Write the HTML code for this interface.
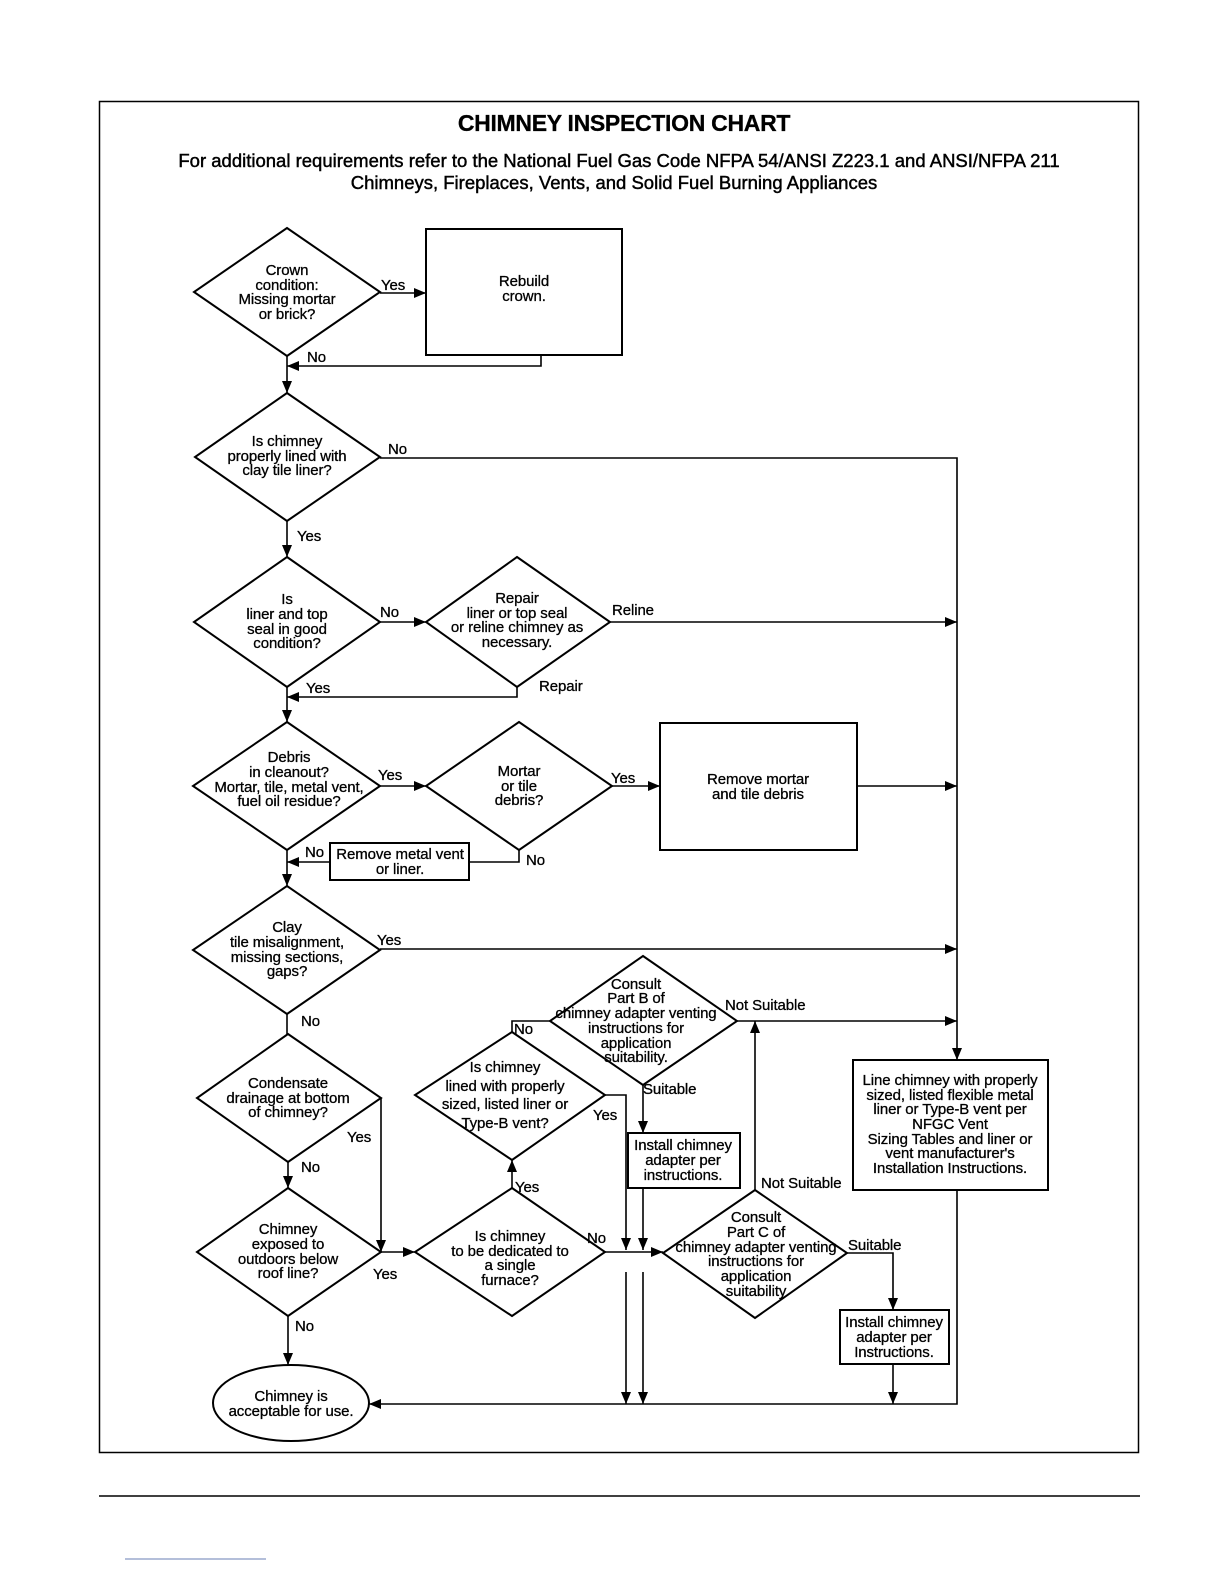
<!DOCTYPE html>
<html><head><meta charset="utf-8"><style>
html,body{margin:0;padding:0;background:#fff;overflow:hidden;width:1224px;height:1584px;}
svg{display:block;}
svg text{font-family:"Liberation Sans",Arial,sans-serif;font-size:15px;letter-spacing:-0.1px;fill:#000;stroke:#000;stroke-width:0.3px;}
</style></head><body>
<svg width="1224" height="1584" viewBox="0 0 1224 1584" xmlns="http://www.w3.org/2000/svg">
<defs>
<marker id="a" markerUnits="userSpaceOnUse" markerWidth="12" markerHeight="12" viewBox="0 0 12 12" refX="12" refY="6" orient="auto"><path d="M0,1 L12,6 L0,11 z" fill="#000"/></marker>
</defs>
<rect x="99.5" y="101.5" width="1039" height="1351" fill="none" stroke="#000" stroke-width="1.5"/>
<line x1="99" y1="1496" x2="1140" y2="1496" stroke="#000" stroke-width="1.5"/>
<line x1="125" y1="1559" x2="266" y2="1559" stroke="#6a7fb5" stroke-width="1"/>
<text x="624" y="131" text-anchor="middle" style="font-size:23px;font-weight:bold;letter-spacing:-0.3px">CHIMNEY INSPECTION CHART</text>
<text x="619" y="167" text-anchor="middle" style="font-size:18.5px;letter-spacing:0px;stroke-width:0.45px">For additional requirements refer to the National Fuel Gas Code NFPA 54/ANSI Z223.1 and ANSI/NFPA 211</text>
<text x="614" y="189" text-anchor="middle" style="font-size:18.5px;letter-spacing:0px;stroke-width:0.45px">Chimneys, Fireplaces, Vents, and Solid Fuel Burning Appliances</text>

<g fill="none" stroke="#000" stroke-width="2">
<polygon points="287,228 380,292 287,356 194,292"/>
<rect x="426" y="229" width="196" height="126"/>
<polygon points="287,393 380,457 287,521 195,457"/>
<polygon points="287,557 380,622 287,687 194,622"/>
<polygon points="517,557 610,622 517,687 426,622"/>
<polygon points="287,722 380,786 287,850 193,786"/>
<polygon points="519,722 612,786 519,850 426,786"/>
<rect x="660" y="723" width="197" height="127"/>
<rect x="330" y="843" width="139" height="37"/>
<polygon points="287,886 380,950 287,1014 193,950"/>
<polygon points="288,1034 381,1098 288,1162 197,1098"/>
<polygon points="288,1188 381,1252 288,1316 197,1252"/>
<ellipse cx="291" cy="1403" rx="78" ry="38"/>
<polygon points="512,1188 605,1252 512,1316 415,1252"/>
<polygon points="512,1032 605,1095 512,1160 415,1095"/>
<polygon points="643,956 737,1021 643,1085 550,1021"/>
<rect x="628" y="1133" width="112" height="55"/>
<polygon points="755,1190 847,1253 755,1318 663,1253"/>
<rect x="840" y="1310" width="109" height="54"/>
<rect x="853" y="1060" width="195" height="130"/>
</g>

<g fill="none" stroke="#000" stroke-width="1.6">
<line x1="380" y1="293" x2="426" y2="293" marker-end="url(#a)"/>
<polyline points="541,355 541,366 287,366" marker-end="url(#a)"/>
<line x1="287" y1="356" x2="287" y2="393" marker-end="url(#a)"/>
<polyline points="380,458 957,458 957,1060" marker-end="url(#a)"/>
<line x1="287" y1="521" x2="287" y2="557" marker-end="url(#a)"/>
<line x1="380" y1="622" x2="426" y2="622" marker-end="url(#a)"/>
<line x1="610" y1="622" x2="957" y2="622" marker-end="url(#a)"/>
<polyline points="517,687 517,697 287,697" marker-end="url(#a)"/>
<line x1="287" y1="687" x2="287" y2="722" marker-end="url(#a)"/>
<line x1="380" y1="786" x2="426" y2="786" marker-end="url(#a)"/>
<line x1="612" y1="786" x2="660" y2="786" marker-end="url(#a)"/>
<line x1="857" y1="786" x2="957" y2="786" marker-end="url(#a)"/>
<polyline points="519,850 519,862 469,862"/>
<line x1="330" y1="862" x2="287" y2="862" marker-end="url(#a)"/>
<line x1="287" y1="850" x2="287" y2="886" marker-end="url(#a)"/>
<line x1="380" y1="949" x2="957" y2="949" marker-end="url(#a)"/>
<line x1="287" y1="1014" x2="287" y2="1034"/>
<line x1="381" y1="1098" x2="381" y2="1252" marker-end="url(#a)"/>
<line x1="288" y1="1162" x2="288" y2="1188" marker-end="url(#a)"/>
<line x1="381" y1="1252" x2="415" y2="1252" marker-end="url(#a)"/>
<line x1="288" y1="1316" x2="288" y2="1365" marker-end="url(#a)"/>
<line x1="512" y1="1188" x2="512" y2="1160" marker-end="url(#a)"/>
<line x1="605" y1="1252" x2="663" y2="1252" marker-end="url(#a)"/>
<polyline points="605,1095 626,1095 626,1250" marker-end="url(#a)"/>
<polyline points="512,1032 512,1021 550,1021"/>
<line x1="737" y1="1021" x2="957" y2="1021" marker-end="url(#a)"/>
<line x1="643" y1="1085" x2="643" y2="1133" marker-end="url(#a)"/>
<line x1="643" y1="1188" x2="643" y2="1250" marker-end="url(#a)"/>
<line x1="626" y1="1272" x2="626" y2="1404" marker-end="url(#a)"/>
<line x1="643" y1="1272" x2="643" y2="1404" marker-end="url(#a)"/>
<line x1="755" y1="1190" x2="755" y2="1021" marker-end="url(#a)"/>
<polyline points="847,1253 893,1253 893,1310" marker-end="url(#a)"/>
<line x1="893" y1="1364" x2="893" y2="1404" marker-end="url(#a)"/>
<polyline points="957,1190 957,1404 369,1404" marker-end="url(#a)"/>
</g>

<g text-anchor="middle">
<text x="287" y="275">Crown</text><text x="287" y="290">condition:</text><text x="287" y="304">Missing mortar</text><text x="287" y="319">or brick?</text>
<text x="524" y="286">Rebuild</text><text x="524" y="301">crown.</text>
<text x="287" y="446">Is chimney</text><text x="287" y="461">properly lined with</text><text x="287" y="475">clay tile liner?</text>
<text x="287" y="604">Is</text><text x="287" y="619">liner and top</text><text x="287" y="634">seal in good</text><text x="287" y="648">condition?</text>
<text x="517" y="603">Repair</text><text x="517" y="618">liner or top seal</text><text x="517" y="632">or reline chimney as</text><text x="517" y="647">necessary.</text>
<text x="289" y="762">Debris</text><text x="289" y="777">in cleanout?</text><text x="289" y="792">Mortar, tile, metal vent,</text><text x="289" y="806">fuel oil residue?</text>
<text x="519" y="776">Mortar</text><text x="519" y="791">or tile</text><text x="519" y="805">debris?</text>
<text x="758" y="784">Remove mortar</text><text x="758" y="799">and tile debris</text>
<text x="400" y="859">Remove metal vent</text><text x="400" y="874">or liner.</text>
<text x="287" y="932">Clay</text><text x="287" y="947">tile misalignment,</text><text x="287" y="962">missing sections,</text><text x="287" y="976">gaps?</text>
<text x="288" y="1088">Condensate</text><text x="288" y="1103">drainage at bottom</text><text x="288" y="1117">of chimney?</text>
<text x="288" y="1234">Chimney</text><text x="288" y="1249">exposed to</text><text x="288" y="1264">outdoors below</text><text x="288" y="1278">roof line?</text>
<text x="291" y="1401">Chimney is</text><text x="291" y="1416">acceptable for use.</text>
<text x="510" y="1241">Is chimney</text><text x="510" y="1256">to be dedicated to</text><text x="510" y="1270">a single</text><text x="510" y="1285">furnace?</text>
<text x="505" y="1072">Is chimney</text><text x="505" y="1091">lined with properly</text><text x="505" y="1109">sized, listed liner or</text><text x="505" y="1128">Type-B vent?</text>
<text x="636" y="989">Consult</text><text x="636" y="1003">Part B of</text><text x="636" y="1018">chimney adapter venting</text><text x="636" y="1033">instructions for</text><text x="636" y="1048">application</text><text x="636" y="1062">suitability.</text>
<text x="683" y="1150">Install chimney</text><text x="683" y="1165">adapter per</text><text x="683" y="1180">instructions.</text>
<text x="756" y="1222">Consult</text><text x="756" y="1237">Part C of</text><text x="756" y="1252">chimney adapter venting</text><text x="756" y="1266">instructions for</text><text x="756" y="1281">application</text><text x="756" y="1296">suitability</text>
<text x="894" y="1327">Install chimney</text><text x="894" y="1342">adapter per</text><text x="894" y="1357">Instructions.</text>
<text x="950" y="1085">Line chimney with properly</text><text x="950" y="1100">sized, listed flexible metal</text><text x="950" y="1114">liner or Type-B vent per</text><text x="950" y="1129">NFGC Vent</text><text x="950" y="1144">Sizing Tables and liner or</text><text x="950" y="1158">vent manufacturer's</text><text x="950" y="1173">Installation Instructions.</text>
</g>

<g>
<text x="381" y="290">Yes</text>
<text x="307" y="362">No</text>
<text x="388" y="454">No</text>
<text x="297" y="541">Yes</text>
<text x="380" y="617">No</text>
<text x="612" y="615">Reline</text>
<text x="539" y="691">Repair</text>
<text x="306" y="693">Yes</text>
<text x="378" y="780">Yes</text>
<text x="611" y="783">Yes</text>
<text x="305" y="857">No</text>
<text x="526" y="865">No</text>
<text x="377" y="945">Yes</text>
<text x="301" y="1026">No</text>
<text x="347" y="1142">Yes</text>
<text x="301" y="1172">No</text>
<text x="373" y="1279">Yes</text>
<text x="295" y="1331">No</text>
<text x="515" y="1192">Yes</text>
<text x="587" y="1243">No</text>
<text x="593" y="1120">Yes</text>
<text x="514" y="1034">No</text>
<text x="725" y="1010">Not Suitable</text>
<text x="643" y="1094">Suitable</text>
<text x="761" y="1188">Not Suitable</text>
<text x="848" y="1250">Suitable</text>
</g>
</svg>
</body></html>
